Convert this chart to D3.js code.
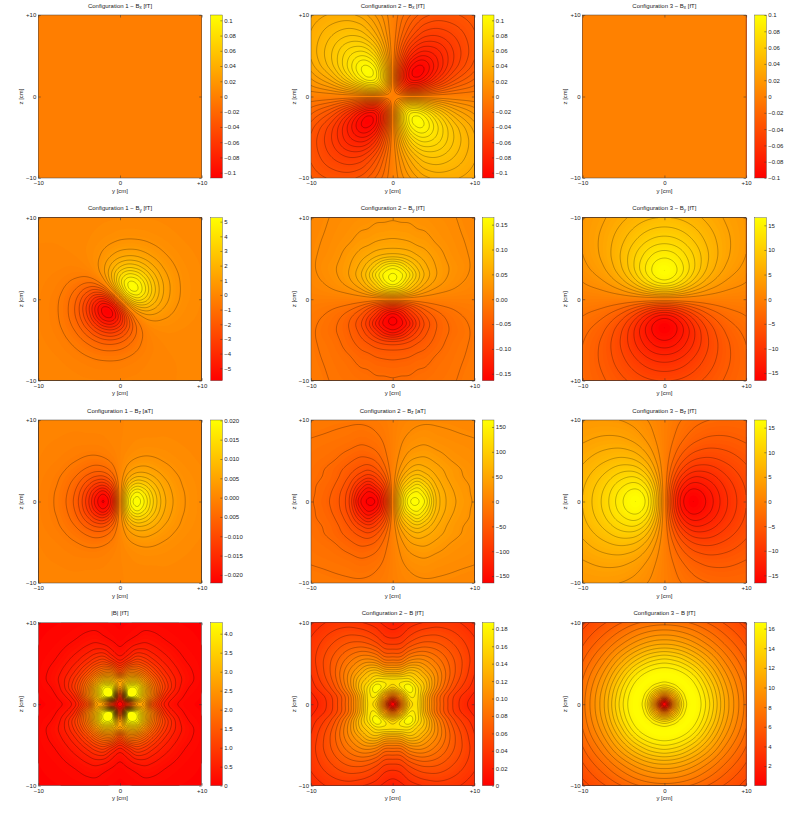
<!DOCTYPE html>
<html>
<head>
<meta charset="utf-8">
<script src="https://cdn.jsdelivr.net/npm/d3@7"></script>
<style>
  html, body { margin: 0; background: #fff; }
  text { font-family: "Liberation Sans", Arial, sans-serif; font-size: 6px; fill: #222; }
</style>
</head>
<body>
<div id="chart"></div>
<script>
// grid positions in cm, the same for y and z
const quad = [0, 1, 2, 3, 4, 5.5, 7.5, 10];
const full = [-10, -7.5, -5.5, -4, -3, -2, -1, 0, 1, 2, 3, 4, 5.5, 7.5, 10];

// quadrant tables: rows are z = quad, columns are y = quad
const blank = quad.map(() => quad.map(() => 0));

const bx2 = [
  [0, 0, 0, 0, 0, 0, 0, 0],
  [0, -.038, -.057, -.058, -.049, -.034, -.020, -.011],
  [0, -.057, -.089, -.094, -.084, -.061, -.037, -.020],
  [0, -.058, -.094, -.105, -.098, -.076, -.049, -.028],
  [0, -.049, -.084, -.098, -.097, -.080, -.056, -.034],
  [0, -.034, -.061, -.076, -.080, -.074, -.057, -.038],
  [0, -.020, -.037, -.049, -.056, -.057, -.050, -.037],
  [0, -.011, -.020, -.028, -.034, -.038, -.037, -.032]
];

// upper half only: rows are z = quad, columns are y = full
const by1 = [
  [-.12, -.44, -1.25, -2.47, -3.39, -3.70, -2.57, 0, 2.57, 3.70, 3.39, 2.47, 1.25, .44, .12],
  [-.10, -.36, -.96, -1.71, -2.06, -1.67, 0, 2.57, 4.60, 5.00, 4.12, 2.86, 1.38, .47, .13],
  [-.085, -.27, -.62, -.91, -.79, 0, 1.67, 3.70, 5.01, 4.96, 3.96, 2.72, 1.34, .46, .13],
  [-.065, -.18, -.33, -.32, 0, .79, 2.06, 3.39, 4.12, 3.96, 3.17, 2.23, 1.14, .42, .12],
  [-.046, -.11, -.14, 0, .32, .91, 1.71, 2.47, 2.86, 2.72, 2.23, 1.62, .88, .35, .11],
  [-.024, -.037, 0, .14, .33, .62, .96, 1.25, 1.38, 1.34, 1.14, .88, .53, .24, .08],
  [-.007, 0, .037, .11, .18, .27, .36, .44, .47, .46, .42, .35, .24, .126, .05],
  [0, .007, .024, .046, .065, .085, .10, .12, .13, .13, .12, .11, .08, .05, .026]
];

const by2 = [
  [0, 0, 0, 0, 0, 0, 0, 0],
  [.100, .090, .070, .048, .032, .019, .011, .005],
  [.157, .140, .105, .078, .054, .033, .018, .008],
  [.164, .153, .125, .090, .064, .039, .022, .010],
  [.140, .128, .102, .078, .058, .038, .023, .011],
  [.070, .068, .062, .053, .045, .033, .019, .0115],
  [.040, .039, .037, .033, .031, .023, .016, .011],
  [.025, .024, .024, .022, .020, .017, .014, .009]
];

const by3 = [
  [0, 0, 0, 0, 0, 0, 0, 0],
  [8.15, 7.70, 6.55, 5.18, 3.93, 2.52, 1.42, .75],
  [13.8, 13.1, 11.3, 9.15, 7.07, 4.67, 2.69, 1.44],
  [16.2, 15.5, 13.7, 11.4, 9.05, 6.19, 3.70, 2.04],
  [16.3, 15.7, 14.1, 12.1, 9.89, 7.06, 4.41, 2.52],
  [14.3, 13.9, 12.8, 11.3, 9.70, 7.37, 4.94, 2.99],
  [10.85, 10.66, 10.1, 9.26, 8.28, 6.74, 4.91, 3.23],
  [7.56, 7.47, 7.21, 6.81, 6.31, 5.45, 4.32, 3.12]
];

const bz1 = [
  [0, .0157, .0210, .0178, .0124, .0063, .0025, .0008],
  [0, .0136, .0186, .0161, .0115, .0059, .0024, .0008],
  [0, .0093, .0132, .0121, .0091, .0050, .0021, .0008],
  [0, .0054, .0081, .0079, .0064, .0038, .0018, .0007],
  [0, .0029, .0045, .0048, .0041, .0027, .0014, .0006],
  [0, .0011, .0018, .0021, .0020, .0015, .0009, .0004],
  [0, .0003, .0006, .0007, .0007, .0007, .0005, .0003],
  [0, .0001, .0002, .0002, .0002, .0002, .0002, .0001]
];

const bz2 = [
  [0, 100, 157, 164, 145, 75, 43, 25],
  [0, 90, 140, 153, 130, 72, 41, 24],
  [0, 70, 105, 125, 105, 63, 37, 24],
  [0, 48, 78, 90, 78, 53, 33, 22],
  [0, 32, 54, 64, 58, 45, 31, 20],
  [0, 19, 33, 39, 40, 33, 23, 17],
  [0, 11, 18, 22, 23, 19, 16, 14],
  [0, 5, 8, 10, 11, 11.5, 11, 9]
];

const bz3 = [
  [0, -8.15, -13.8, -16.2, -16.3, -14.3, -10.85, -7.56],
  [0, -7.70, -13.1, -15.5, -15.7, -13.9, -10.66, -7.47],
  [0, -6.55, -11.3, -13.7, -14.1, -12.8, -10.1, -7.21],
  [0, -5.18, -9.15, -11.4, -12.1, -11.3, -9.26, -6.81],
  [0, -3.93, -7.07, -9.05, -9.89, -9.70, -8.28, -6.31],
  [0, -2.52, -4.67, -6.19, -7.06, -7.37, -6.74, -5.45],
  [0, -1.42, -2.69, -3.70, -4.41, -4.94, -4.91, -4.32],
  [0, -.75, -1.44, -2.04, -2.52, -2.99, -3.23, -3.12]
];

const b1 = [
  [0, 1.0, 2.6, 2.6, 1.4, .47, .13, .03],
  [1.0, 4.2, 4.15, 3.1, 2.05, .74, .21, .045],
  [2.6, 4.15, 4.2, 3.13, 2.05, 1.03, .30, .065],
  [2.6, 3.1, 3.13, 2.42, 1.71, .92, .35, .085],
  [1.4, 2.05, 2.05, 1.71, 1.24, .70, .30, .09],
  [.47, .74, 1.03, .92, .70, .43, .20, .078],
  [.13, .21, .30, .35, .30, .20, .115, .05],
  [.03, .045, .065, .085, .09, .078, .05, .028]
];

const b2 = [
  [0, .085, .150, .163, .125, .079, .043, .020],
  [.085, .120, .170, .165, .128, .080, .045, .024],
  [.150, .170, .187, .165, .140, .095, .055, .030],
  [.163, .165, .165, .150, .135, .100, .062, .034],
  [.125, .128, .140, .135, .120, .097, .065, .037],
  [.079, .080, .095, .100, .097, .084, .063, .040],
  [.043, .045, .055, .062, .065, .063, .053, .038],
  [.020, .024, .030, .034, .037, .040, .038, .030]
];

const b3 = [
  [0, 8.15, 13.8, 16.2, 16.3, 14.3, 10.85, 7.56],
  [8.15, 10.9, 14.7, 16.4, 16.2, 14.1, 10.76, 7.50],
  [13.8, 14.7, 16.03, 16.46, 15.8, 13.65, 10.45, 7.35],
  [16.2, 16.4, 16.46, 16.07, 15.09, 12.9, 9.98, 7.11],
  [16.3, 16.2, 15.8, 15.09, 14.0, 12.0, 9.38, 6.79],
  [14.3, 14.1, 13.65, 12.9, 12.0, 10.45, 8.35, 6.20],
  [10.85, 10.76, 10.45, 9.98, 9.38, 8.35, 6.94, 5.39],
  [7.56, 7.50, 7.35, 7.11, 6.79, 6.20, 5.39, 4.41]
];

// colorbar ticks
const ticksFine = [.1, .08, .06, .04, .02, 0, -.02, -.04, -.06, -.08, -.1];
const labelsFine = ['0.1', '0.08', '0.06', '0.04', '0.02', '0', '−0.02', '−0.04', '−0.06', '−0.08', '−0.1'];
const ticksBy1 = [5, 4, 3, 2, 1, 0, -1, -2, -3, -4, -5];
const labelsBy1 = ['5', '4', '3', '2', '1', '0', '−1', '−2', '−3', '−4', '−5'];
const ticksBy2 = [.15, .1, .05, 0, -.05, -.1, -.15];
const labelsBy2 = ['0.15', '0.10', '0.05', '0.00', '−0.05', '−0.10', '−0.15'];
const ticks15 = [15, 10, 5, 0, -5, -10, -15];
const labels15 = ['15', '10', '5', '0', '−5', '−10', '−15'];
const ticksBz1 = [.02, .015, .01, .005, 0, -.005, -.01, -.015, -.02];
const labelsBz1 = ['0.020', '0.015', '0.010', '0.005', '0.000', '0.005', '−0.010', '−0.015', '−0.020'];
const ticks150 = [150, 100, 50, 0, -50, -100, -150];
const labels150 = ['150', '100', '50', '0', '−50', '−100', '−150'];
const ticksB1 = [4, 3.5, 3, 2.5, 2, 1.5, 1, .5, 0];
const labelsB1 = ['4.0', '3.5', '3.0', '2.5', '2.0', '1.5', '1.0', '0.5', '0'];
const ticksB2 = [.18, .16, .14, .12, .1, .08, .06, .04, .02, 0];
const labelsB2 = ['0.18', '0.16', '0.14', '0.12', '0.10', '0.08', '0.06', '0.04', '0.02', '0'];
const ticksB3 = [16, 14, 12, 10, 8, 6, 4, 2];
const labelsB3 = ['16', '14', '12', '10', '8', '6', '4', '2'];

// sign = [mirror in y, mirror in z], null means point reflection of a half table
const panels = [
  { title: ['Configuration 1 − B', 'x', ' [fT]'], data: blank, sign: [1, 1], range: [-.107, .107], step: 0, ticks: ticksFine, labels: labelsFine },
  { title: ['Configuration 2 − B', 'x', ' [fT]'], data: bx2, sign: [-1, -1], range: [-.107, .107], step: .0072, ticks: ticksFine, labels: labelsFine },
  { title: ['Configuration 3 − B', 'x', ' [fT]'], data: blank, sign: [1, 1], range: [-.1, .1], step: 0, ticks: ticksFine, labels: labelsFine },
  { title: ['Configuration 1 − B', 'y', ' [fT]'], data: by1, sign: null, range: [-5.85, 5.27], step: .5, negGain: 1.11, ticks: ticksBy1, labels: labelsBy1 },
  { title: ['Configuration 2 − B', 'y', ' [fT]'], data: by2, sign: [1, -1], range: [-.164, .164], step: .0135, ticks: ticksBy2, labels: labelsBy2 },
  { title: ['Configuration 3 − B', 'y', ' [fT]'], data: by3, sign: [1, -1], range: [-16.55, 16.55], step: 1.5, flipZ: true, ticks: ticks15, labels: labels15 },
  { title: ['Configuration 1 − B', 'z', ' [aT]'], data: bz1, sign: [-1, 1], range: [-.0221, .0201], step: .002, negGain: 1.05, ticks: ticksBz1, labels: labelsBz1 },
  { title: ['Configuration 2 − B', 'z', ' [aT]'], data: bz2, sign: [-1, 1], range: [-164, 164], step: 13.5, ticks: ticks150, labels: labels150 },
  { title: ['Configuration 3 − B', 'z', ' [fT]'], data: bz3, sign: [-1, 1], range: [-16.55, 16.55], step: 1.5, ticks: ticks15, labels: labels15 },
  { title: ['|B| [fT]', '', ''], data: b1, sign: [1, 1], range: [0, 4.29], step: .17, ticks: ticksB1, labels: labelsB1 },
  { title: ['Configuration 2 − B [fT]', '', ''], data: b2, sign: [1, 1], range: [0, .187], step: .009, ticks: ticksB2, labels: labelsB2 },
  { title: ['Configuration 3 − B [fT]', '', ''], data: b3, sign: [1, 1], range: [0, 16.6], step: .79, ticks: ticksB3, labels: labelsB3 }
];

const lefts = [38.3, 311, 582.7];
const barLefts = [210.7, 482.3, 754.7];
const tops = [15, 217.7, 420, 622.7];
const plotW = 163.4, plotH = 163, barW = 11.7;
const fine = 165; // resampled grid size

const svg = d3.select('#chart').append('svg')
  .attr('width', 800).attr('height', 820)
  .style('display', 'block');
const defs = svg.append('defs');

// quadrant table -> 15x15 table
function expand(p) {
  return full.map(z => {
    if (p.sign === null) {
      return full.map((y, j) => {
        const i = quad.indexOf(Math.abs(z));
        const v = z >= 0 ? p.data[i][j] : -p.data[i][full.length - 1 - j];
        return v < 0 ? v * p.negGain : v;
      });
    }
    return full.map(y => {
      let v = p.data[quad.indexOf(Math.abs(z))][quad.indexOf(Math.abs(y))];
      if (y < 0) v *= p.sign[0];
      if (z < 0) v *= p.sign[1];
      return v < 0 && p.negGain ? v * p.negGain : v;
    });
  });
}

// cubic hermite through the table values, only to get a smooth surface to contour
function cubicAt(xs, ys, x) {
  const n = xs.length;
  let i = d3.bisectRight(xs, x) - 1;
  i = Math.max(0, Math.min(n - 2, i));
  const slope = k => {
    const a = Math.max(0, k - 1), b = Math.min(n - 1, k + 1);
    return (ys[b] - ys[a]) / (xs[b] - xs[a]);
  };
  const h = xs[i + 1] - xs[i], t = (x - xs[i]) / h;
  return (2 * t * t * t - 3 * t * t + 1) * ys[i] + (t * t * t - 2 * t * t + t) * h * slope(i) +
    (-2 * t * t * t + 3 * t * t) * ys[i + 1] + (t * t * t - t * t) * h * slope(i + 1);
}

function resample(table) {
  const axis = d3.range(fine).map(i => -10 + i * 20 / (fine - 1));
  const rows = table.map(row => axis.map(y => cubicAt(full, row, y)));
  const values = new Array(fine * fine);
  axis.forEach((y, c) => {
    const col = rows.map(r => r[c]);
    axis.forEach((z, r) => {
      // d3.contours row 0 is the top of the plot
      values[(fine - 1 - r) * fine + c] = cubicAt(full, col, z);
    });
  });
  return values;
}

panels.forEach((p, idx) => {
  const col = idx % 3, row = Math.floor(idx / 3);
  const x0 = lefts[col], y0 = tops[row];
  const g = svg.append('g').attr('transform', `translate(${x0},${y0})`);

  const yScale = d3.scaleLinear().domain([-10, 10]).range([0, plotW]);
  const zScale = d3.scaleLinear().domain([-10, 10]).range([plotH, 0]);
  const color = d3.scaleLinear().domain(p.range).range(['#ff0000', '#ffff00']).clamp(true);

  const clipId = 'clip' + idx;
  defs.append('clipPath').attr('id', clipId).append('rect').attr('width', plotW).attr('height', plotH);
  const field = g.append('g').attr('clip-path', `url(#${clipId})`);

  const values = resample(expand(p));
  const project = d3.geoTransform({
    point(px, py) {
      this.stream.point(
        yScale(-10 + (px - .5) * 20 / (fine - 1)),
        zScale(10 - (py - .5) * 20 / (fine - 1))
      );
    }
  });
  const path = d3.geoPath(project);
  const contours = d3.contours().size([fine, fine]).smooth(true);

  // colour bands
  const bands = d3.range(1, 80).map(i => p.range[0] + i * (p.range[1] - p.range[0]) / 80);
  field.append('rect').attr('width', plotW).attr('height', plotH).attr('fill', color(d3.min(values)));
  field.selectAll('path.band')
    .data(contours.thresholds(bands)(values))
    .join('path')
    .attr('class', 'band')
    .attr('d', path)
    .attr('fill', d => color(d.value + (p.range[1] - p.range[0]) / 160));

  // contour lines
  if (p.step > 0) {
    const levels = [];
    for (let v = p.step; v < p.range[1]; v += p.step) levels.push(v);
    for (let v = -p.step; v > p.range[0]; v -= p.step) levels.push(v);
    field.selectAll('path.level')
      .data(contours.thresholds(levels)(values))
      .join('path')
      .attr('class', 'level')
      .attr('d', path)
      .attr('fill', 'none')
      .attr('stroke', '#000')
      .attr('stroke-opacity', .52)
      .attr('stroke-width', .5);
  }

  // axes
  const tickText = v => v === 0 ? '0' : (v > 0 ? '+10' : '−10');
  const zText = p.flipZ ? v => tickText(-v) : tickText;
  const clean = s => s.call(a => a.select('.domain').remove())
    .call(a => a.selectAll('line').attr('stroke', '#333').attr('stroke-width', .5));

  g.append('g').attr('transform', `translate(0,${plotH})`)
    .call(d3.axisBottom(yScale).tickValues([-10, 0, 10]).tickSize(-2.5).tickPadding(2.8).tickFormat(tickText))
    .call(clean);
  g.append('g')
    .call(d3.axisLeft(zScale).tickValues([-10, 0, 10]).tickSize(-2.5).tickPadding(2).tickFormat(zText))
    .call(clean);
  g.append('g')
    .call(d3.axisTop(yScale).tickValues([-10, 0, 10]).tickSize(-2.5).tickFormat(''))
    .call(clean);
  g.append('g').attr('transform', `translate(${plotW},0)`)
    .call(d3.axisRight(zScale).tickValues([-10, 0, 10]).tickSize(-2.5).tickFormat(''))
    .call(clean);

  g.append('rect').attr('width', plotW).attr('height', plotH)
    .attr('fill', 'none').attr('stroke', '#444').attr('stroke-width', .5);

  // titles and axis names
  const title = g.append('text').attr('x', plotW / 2).attr('y', -7.5).attr('text-anchor', 'middle');
  title.append('tspan').text(p.title[0]);
  if (p.title[1]) {
    title.append('tspan').attr('dy', 1.6).style('font-size', '4.5px').text(p.title[1]);
    title.append('tspan').attr('dy', -1.6).text(p.title[2]);
  }
  g.append('text').attr('x', plotW / 2).attr('y', plotH + 14.5).attr('text-anchor', 'middle').text('y [cm]');
  g.append('text').attr('transform', `translate(-15.5,${plotH / 2}) rotate(-90)`)
    .attr('text-anchor', 'middle').text('z [cm]');

  // colorbar
  const gradId = 'grad' + idx;
  const grad = defs.append('linearGradient').attr('id', gradId)
    .attr('x1', 0).attr('y1', 1).attr('x2', 0).attr('y2', 0);
  grad.append('stop').attr('offset', 0).attr('stop-color', '#ff0000');
  grad.append('stop').attr('offset', 1).attr('stop-color', '#ffff00');

  const barScale = d3.scaleLinear().domain(p.range).range([plotH, 0]);
  const bar = svg.append('g').attr('transform', `translate(${barLefts[col]},${y0})`);
  bar.append('rect').attr('width', barW).attr('height', plotH).attr('fill', `url(#${gradId})`);
  bar.append('g').attr('transform', `translate(${barW},0)`)
    .call(d3.axisRight(barScale).tickValues(p.ticks).tickSize(-2).tickPadding(1.8)
      .tickFormat((d, i) => p.labels[i]))
    .call(clean);
  bar.append('rect').attr('width', barW).attr('height', plotH)
    .attr('fill', 'none').attr('stroke', '#444').attr('stroke-width', .4);
});
</script>
</body>
</html>
